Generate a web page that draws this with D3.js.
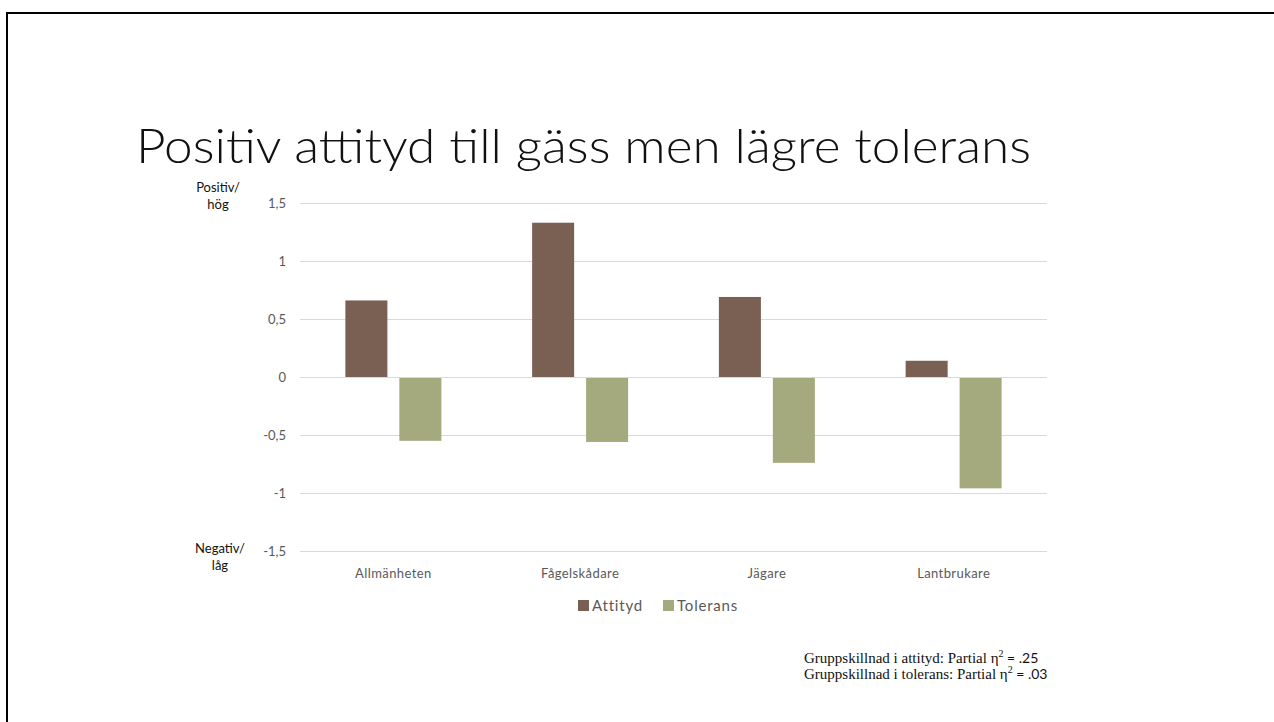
<!DOCTYPE html>
<html><head><meta charset="utf-8">
<script src="https://cdn.jsdelivr.net/npm/d3@7"></script>
<style>body{margin:0;background:#fff;} svg{display:block;font-family:Lato, "Open Sans", sans-serif;}</style>
</head><body>
<svg id="c" width="1274" height="722"></svg>
<script>
const categories = ["Allmänheten", "Fågelskådare", "Jägare", "Lantbrukare"];
const seriesNames = ["Attityd", "Tolerans"];
const attityd = [0.66, 1.33, 0.69, 0.14];
const tolerans = [-0.55, -0.56, -0.74, -0.96];
const yTicks = [1.5, 1, 0.5, 0, -0.5, -1, -1.5];
const colors = ["#7a5f53", "#a4aa7d"];

const svg = d3.select("#c");
// slide frame
svg.append("rect").attr("x", 7).attr("y", 13).attr("width", 1280).attr("height", 720)
  .attr("fill", "none").attr("stroke", "#000").attr("stroke-width", 2);

svg.append("text").attr("x", 136).attr("y", 163).attr("font-size", 47)
  .attr("font-weight", 300).attr("textLength", 895).attr("lengthAdjust", "spacingAndGlyphs")
  .attr("fill", "#111").text("Positiv attityd till gäss men lägre tolerans");

const L = 300, R = 1047;
const y = d3.scaleLinear().domain([-1.5, 1.5]).range([551, 203]);
const x0 = d3.scaleBand().domain(categories).range([L, R]);
const bw = x0.bandwidth();
const barW = bw * 0.225, inner = bw * 0.064;
const x1 = d3.scaleOrdinal().domain(seriesNames).range([-(barW + inner / 2), inner / 2]);

// grid
const yAxis = d3.axisLeft(y).tickValues(yTicks).tickSize(-(R - L)).tickPadding(14)
  .tickFormat(d => String(d).replace(".", ","));
const ga = svg.append("g").attr("transform", `translate(${L},0)`).call(yAxis);
ga.select(".domain").remove();
ga.selectAll(".tick line").attr("stroke", "#d9d9d9").attr("stroke-width", 1);
ga.selectAll(".tick text").attr("fill", "#595959").attr("font-size", 13).attr("font-family", "Lato, sans-serif");

const data = categories.map((c, i) => ({c, vals: [attityd[i], tolerans[i]]}));
const g = svg.append("g");
data.forEach(d => {
  d.vals.forEach((v, j) => {
    const s = seriesNames[j];
    g.append("rect")
      .attr("x", x0(d.c) + bw / 2 + x1(s))
      .attr("y", v >= 0 ? y(v) : y(0) + 1)
      .attr("width", barW)
      .attr("height", Math.abs(y(v) - y(0)) - (v >= 0 ? 0 : 1))
      .attr("fill", colors[j]);
  });
});

// x axis labels
const xAxis = d3.axisBottom(x0).tickSize(0).tickPadding(0);
const gx = svg.append("g").attr("transform", `translate(0,569)`).call(xAxis);
gx.select(".domain").remove();
gx.selectAll("text").attr("fill", "#595959").attr("font-size", 13).attr("dy", "0.71em")
  .attr("letter-spacing", 0.4).attr("font-family", "Lato, sans-serif");

// legend
const leg = svg.append("g").attr("transform", "translate(578,600)");
seriesNames.forEach((s, i) => {
  const off = i === 0 ? 0 : 85;
  leg.append("rect").attr("x", off).attr("y", 0).attr("width", 11).attr("height", 11).attr("fill", colors[i]);
  leg.append("text").attr("x", off + 14).attr("y", 11).attr("font-size", 15).attr("fill", "#595959")
    .attr("letter-spacing", 0.8).text(s);
});

// y end labels
const endLab = [["Positiv/", "hög", 218, 192], ["Negativ/", "låg", 220, 553]];
endLab.forEach(([a, b, cx, ty]) => {
  const t = svg.append("text").attr("text-anchor", "middle").attr("font-size", 13).attr("fill", "#111");
  t.append("tspan").attr("x", cx).attr("y", ty).text(a);
  t.append("tspan").attr("x", cx).attr("y", ty + 17).text(b);
});

// note
const note = svg.append("g").attr("font-family", "'Liberation Serif', 'Times New Roman', serif")
  .attr("font-size", 15).attr("fill", "#111");
[["Gruppskillnad i attityd: Partial η", " = .25", 663], ["Gruppskillnad i tolerans: Partial η", " = .03", 679]].forEach(([a, b, yy]) => {
  const t = note.append("text").attr("x", 804).attr("y", yy);
  t.append("tspan").text(a);
  t.append("tspan").attr("dy", -6).attr("font-size", 10).text("2");
  t.append("tspan").attr("dy", 6).attr("font-family", "Lato, sans-serif").attr("font-size", 14).text(b);
});
</script>
</body></html>
